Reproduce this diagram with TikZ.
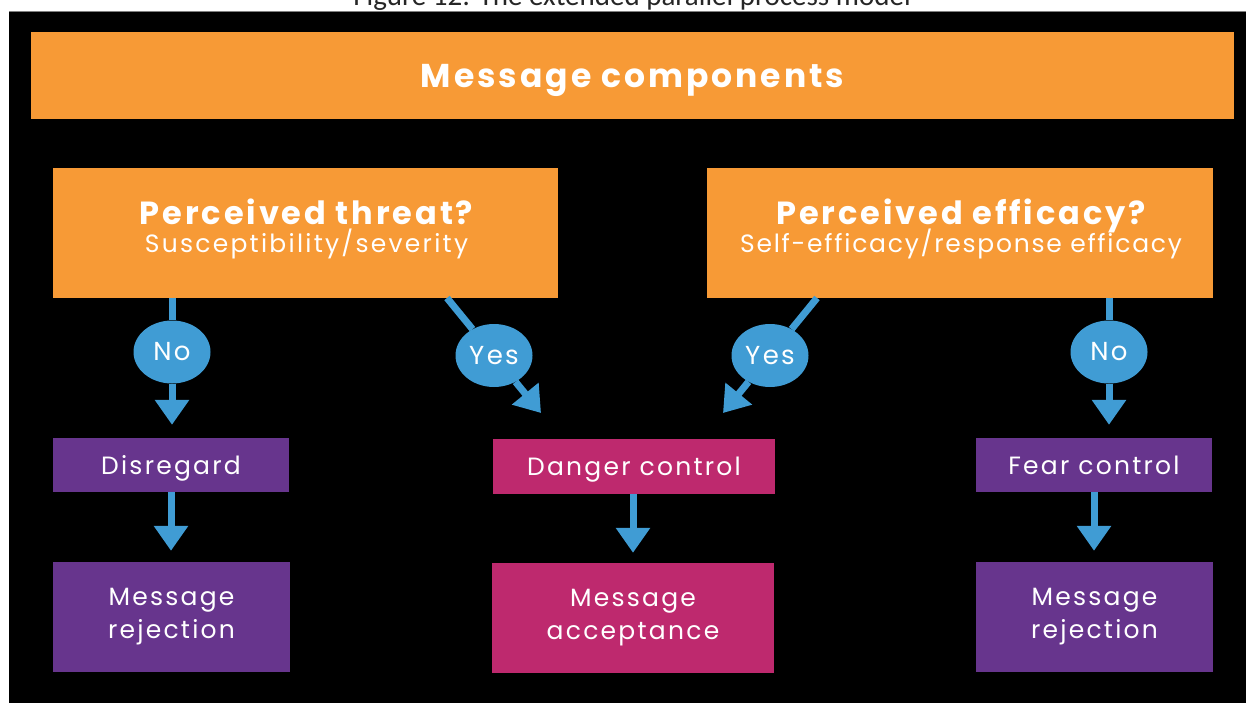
\documentclass[tikz,border=0pt]{standalone}
\usepackage{fontspec}
\setmainfont{Poppins}[LetterSpace=9]
\newfontfamily\capfont{Carlito}
\usetikzlibrary{arrows.meta,shapes.geometric,calc}

\definecolor{msgorange}{RGB}{247,154,54}
\definecolor{msgpurple}{RGB}{103,53,141}
\definecolor{msgmagenta}{RGB}{190,41,110}
\definecolor{msgblue}{RGB}{64,156,212}

\begin{document}
\begin{tikzpicture}[x=1pt,y=-1pt,
  box/.style={rectangle, inner sep=0pt, text=white, align=center},
  topbox/.style={box, fill=msgorange},
  titletext/.style={anchor=base, inner sep=0pt, text=white,
    font=\bfseries\fontsize{32}{36}\selectfont},
  subtext/.style={anchor=base, inner sep=0pt, text=white,
    font=\fontsize{25}{27}\selectfont},
  onebox/.style={box, text depth=0pt, font=\fontsize{25}{33}\selectfont},
  twobox/.style={box, font=\fontsize{25}{33}\selectfont},
  answer/.style={ellipse, fill=msgblue, text=white, inner sep=0pt,
    minimum width=77pt, minimum height=63pt, font=\fontsize{26}{28}\selectfont},
  conn/.style={draw=msgblue, line width=7pt},
  arr/.style={conn, -{Triangle[width=33pt,length=25pt]}}
]
\useasboundingbox (0,0) rectangle (1246,703);
\fill[white] (0,0) rectangle (1246,703);

% caption, cut by the top edge
\begin{scope}
  \clip (0,0) rectangle (1246,12);
  \node[anchor=base, inner sep=0pt, text=black!85,
        font=\capfont\fontsize{29}{32}\selectfont] (caption) at (632,6)
    {Figure 12: The extended parallel process model};
\end{scope}

% black panel
\fill[black] (9,12) rectangle (1246,703);
\draw[gray, line width=1pt] (9,12) -- (1246,12);

% headers
\node[topbox, text depth=0pt, minimum width=1203pt, minimum height=87pt,
      font=\bfseries\fontsize{33}{36}\selectfont] (msg) at (632.5,75.5)
  {Message components};
\node[topbox, minimum width=505pt, minimum height=130pt] (threat) at (305.5,233) {};
\node[titletext] (threatTitle) at (306.5,225) {Perceived threat?};
\node[subtext] (threatSub) at (306.5,252) {Susceptibility/severity};
\node[topbox, minimum width=506pt, minimum height=130pt] (efficacy) at (960,233) {};
\node[titletext] (efficacyTitle) at (961,225) {Perceived efficacy?};
\node[subtext] (efficacySub) at (961,252)
  {\addfontfeatures{LetterSpace=7}Self-efficacy/response efficacy};

% outcome boxes
\node[onebox, fill=msgpurple, minimum width=236pt, minimum height=54pt] (dis) at (171,465) {Disregard};
\node[twobox, fill=msgpurple, minimum width=237pt, minimum height=110pt] (rejL) at (171.5,617) {Message\\rejection};
\node[onebox, fill=msgmagenta, minimum width=282pt, minimum height=55pt] (danger) at (634,466.5) {Danger control};
\node[twobox, fill=msgmagenta, minimum width=282pt, minimum height=110pt] (accept) at (633,618) {Message\\acceptance};
\node[onebox, fill=msgpurple, minimum width=236pt, minimum height=54pt] (fear) at (1094,465) {Fear control};
\node[twobox, fill=msgpurple, minimum width=237pt, minimum height=110pt] (rejR) at (1094.5,617) {Message\\rejection};

% answer bubbles
\coordinate (tyStart) at (447,298);
\coordinate (tyTip) at (541,413);
\coordinate (eyStart) at (817,298);
\coordinate (eyTip) at (723,413);
\node[answer] (noL) at (172,352) {No};
\node[answer] (yesL) at ($(tyStart)!0.5!(tyTip)$) {Yes};
\node[answer] (yesR) at ($(eyStart)!0.5!(eyTip)$) {Yes};
\node[answer] (noR) at (1109,352) {No};

% connectors
\draw[conn] (threat.south -| noL) -- (noL);
\draw[arr, shorten >=13pt] (noL) -- (noL |- dis.north);
\draw[conn] (tyStart) -- (yesL);
\draw[arr] (yesL) -- (tyTip);
\draw[conn] (eyStart) -- (yesR);
\draw[arr] (yesR) -- (eyTip);
\draw[conn] (efficacy.south -| noR) -- (noR);
\draw[arr, shorten >=13pt] (noR) -- (noR |- fear.north);

\draw[arr, shorten >=11pt] (dis) -- (dis.south |- rejL.north);
\draw[arr, shorten >=10pt] (danger.south -| accept) -- (accept.north);
\draw[arr, shorten >=11pt] (fear) -- (fear.south |- rejR.north);
\end{tikzpicture}
\end{document}
